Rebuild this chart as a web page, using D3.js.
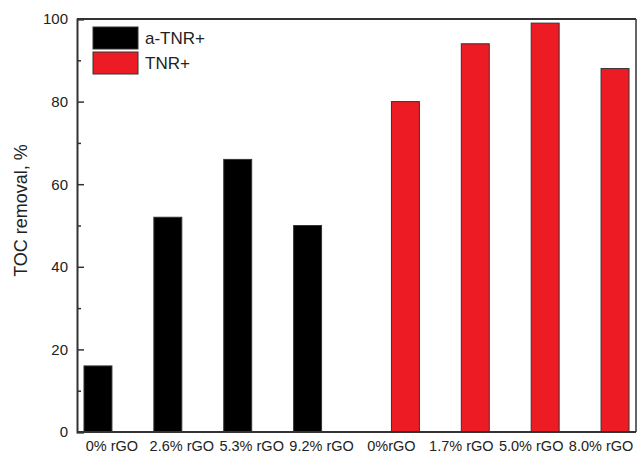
<!DOCTYPE html>
<html><head><meta charset="utf-8">
<script src="https://cdn.jsdelivr.net/npm/d3@7"></script>
<style>body{margin:0;background:#fff;} svg{display:block;font-family:"Liberation Sans",Arial,sans-serif;}</style>
</head><body>
<svg id="chart" width="638" height="455"></svg>
<script>
const categories = ["0% rGO","2.6% rGO","5.3% rGO","9.2% rGO","0%rGO","1.7% rGO","5.0% rGO","8.0% rGO"];
const seriesNames = ["a-TNR+","TNR+"];
const seriesColors = ["#000000","#ed1c24"];
const aTNRValues = [16,52,66,50,null,null,null,null];
const TNRValues = [null,null,null,null,80,94,99,88];
const yTicks = [0,20,40,60,80,100];
const yMinorTicks = [10,30,50,70,90];

const svg = d3.select("#chart");
const m = {left:77, right:2, top:19, bottom:23};
const W = 638, H = 455;
const x0 = m.left, x1 = W - m.right, y0 = H - m.bottom, y1 = m.top;

const x = d3.scaleBand().domain(categories).range([x0,x1]).paddingInner(0.2).paddingOuter(0.1);
const xs = d3.scaleBand().domain(seriesNames).range([0,x.bandwidth()]);
const y = d3.scaleLinear().domain([0,100]).range([y0,y1]);

const series = [aTNRValues, TNRValues];
series.forEach((vals,si)=>{
  svg.append("g").selectAll("rect")
    .data(categories.map((c,i)=>({c, v:vals[i]})).filter(d=>d.v!=null))
    .join("rect")
    .attr("x", d=>x(d.c)+xs(seriesNames[si]))
    .attr("y", d=>y(d.v))
    .attr("width", xs.bandwidth())
    .attr("height", d=>y(0)-y(d.v))
    .attr("fill", seriesColors[si])
    .attr("stroke","#333")
    .attr("stroke-width",1);
});

// frame
const axisColor = "#333";
svg.append("line").attr("x1",x0).attr("x2",x1).attr("y1",y1).attr("y2",y1).attr("stroke",axisColor).attr("stroke-width",2);
svg.append("line").attr("x1",x1).attr("x2",x1).attr("y1",y1).attr("y2",y0).attr("stroke",axisColor).attr("stroke-width",1.5);

// y axis
const yAxis = d3.axisLeft(y).tickValues(yTicks).tickSize(-7).tickPadding(9).tickFormat(d3.format("d"));
const gy = svg.append("g").attr("transform",`translate(${x0},0)`).call(yAxis);
gy.select(".domain").attr("stroke",axisColor).attr("stroke-width",2);
gy.selectAll(".tick line").attr("stroke",axisColor).attr("stroke-width",1.5);
gy.selectAll(".tick text").attr("font-size",15).attr("fill","#222").attr("font-family","Liberation Sans, Arial, sans-serif");
const gym = svg.append("g").attr("transform",`translate(${x0},0)`).call(d3.axisLeft(y).tickValues(yMinorTicks).tickSize(-4).tickFormat(""));
gym.select(".domain").remove();
gym.selectAll(".tick line").attr("stroke",axisColor).attr("stroke-width",1.5);

// x axis
const gx = svg.append("g").attr("transform",`translate(0,${y0})`).call(d3.axisBottom(x).tickSize(0).tickPadding(9));
gx.select(".domain").attr("stroke",axisColor).attr("stroke-width",2).attr("d",`M${x0},0H${x1}`);
gx.selectAll(".tick text").attr("font-size",14.5).attr("fill","#222").attr("font-family","Liberation Sans, Arial, sans-serif");

// y title
svg.append("text").attr("transform",`translate(27,${(y0+y1)/2 - 15}) rotate(-90)`)
  .attr("text-anchor","middle").attr("font-size",18).attr("fill","#222").text("TOC removal, %");

// legend
const lg = svg.append("g");
seriesNames.forEach((s,i)=>{
  lg.append("rect").attr("x",93).attr("y",27+i*25).attr("width",45).attr("height",22)
    .attr("fill",seriesColors[i]).attr("stroke","#333").attr("stroke-width",1);
  lg.append("text").attr("x",145).attr("y",38+i*25).attr("dy","0.35em")
    .attr("font-size",17).attr("fill","#222").text(s);
});
</script>
</body></html>
